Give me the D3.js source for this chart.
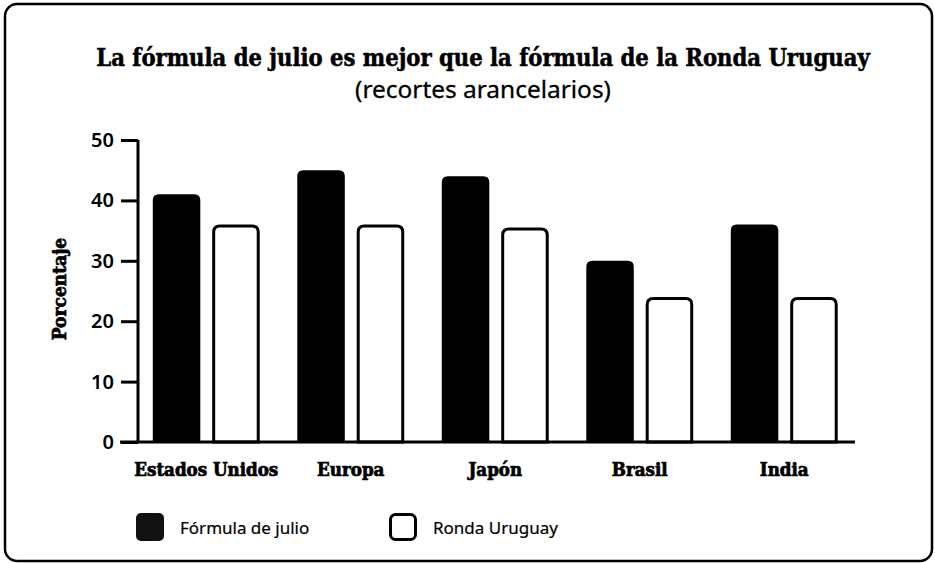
<!DOCTYPE html>
<html>
<head>
<meta charset="utf-8">
<script src="https://cdn.jsdelivr.net/npm/d3@7"></script>
<style>
  body { margin: 0; background: #fff; }
  .slab { font-family: "DejaVu Serif", "Liberation Serif", serif; font-weight: bold; font-stretch: condensed; }
  .sans { font-family: "Noto Sans", "Open Sans", sans-serif; }
</style>
</head>
<body>
<svg width="935" height="563"></svg>
<script>
// Chart data
var categories = ["Estados Unidos", "Europa", "Japón", "Brasil", "India"];
var seriesNames = ["Fórmula de julio", "Ronda Uruguay"];
var julio = [41, 45, 44, 30, 36];
var uruguay = [36, 36, 35.5, 24, 24];
var yTicks = [0, 10, 20, 30, 40, 50];

var svg = d3.select("svg"),
    width = +svg.attr("width"),
    height = +svg.attr("height");

var margin = {top: 140, left: 138, bottom: 121, right: 80};
var plotBottom = height - margin.bottom;

// font size that makes a text span about the given width
function fitSize(sel, target) {
    var fs = +sel.attr("font-size");
    var w = sel.node().getComputedTextLength();
    return w > 0 ? +(fs * target / w).toFixed(2) : fs;
}

// frame
svg.append("rect")
    .attr("x", 5).attr("y", 4)
    .attr("width", width - 8).attr("height", height - 6)
    .attr("rx", 12)
    .attr("fill", "#fff")
    .attr("stroke", "#000")
    .attr("stroke-width", 2.5);

// titles
var title = svg.append("text")
    .attr("class", "slab")
    .attr("x", 483).attr("y", 66)
    .attr("text-anchor", "middle")
    .attr("font-size", 24)
    .attr("stroke", "#000").attr("stroke-width", 0.5)
    .text("La fórmula de julio es mejor que la fórmula de la Ronda Uruguay");
title.attr("font-size", Math.min(27, fitSize(title, 774)));

var sub = svg.append("text")
    .attr("class", "sans")
    .attr("x", 483).attr("y", 98)
    .attr("text-anchor", "middle")
    .attr("font-size", 22)
    .attr("stroke", "#000").attr("stroke-width", 0.3)
    .text("(recortes arancelarios)");
sub.attr("font-size", fitSize(sub, 256));

// scales
var y = d3.scaleLinear().domain([0, 50]).range([plotBottom, margin.top]);
var x0 = d3.scaleBand().domain(categories).range([134, 856.5]).padding(0);
var x1 = d3.scaleBand().domain(seriesNames).range([0, x0.bandwidth()])
    .paddingInner(0.2).paddingOuter(0.316);

var rows = categories.map(function(c, i) {
    return {cat: c, values: [
        {key: seriesNames[0], value: julio[i]},
        {key: seriesNames[1], value: uruguay[i]}
    ]};
});

// bar with rounded top corners
function topRounded(x, yTop, w, yBot, r) {
    return "M" + x + "," + yBot +
        "V" + (yTop + r) +
        "Q" + x + "," + yTop + " " + (x + r) + "," + yTop +
        "H" + (x + w - r) +
        "Q" + (x + w) + "," + yTop + " " + (x + w) + "," + (yTop + r) +
        "V" + yBot + "Z";
}

var groups = svg.append("g").selectAll("g")
    .data(rows)
    .enter().append("g")
    .attr("transform", function(d) { return "translate(" + x0(d.cat) + ",0)"; });

groups.selectAll("path")
    .data(function(d) { return d.values; })
    .enter().append("path")
    .attr("d", function(d) {
        var bx = x1(d.key), bw = x1.bandwidth();
        if (d.key === seriesNames[0]) {
            return topRounded(bx, y(d.value), bw, plotBottom, 6);
        }
        return topRounded(bx + 1.5, y(d.value) + 1.5, bw - 3, plotBottom, 6);
    })
    .attr("fill", function(d) { return d.key === seriesNames[0] ? "#000" : "#fff"; })
    .attr("stroke", function(d) { return d.key === seriesNames[0] ? "none" : "#000"; })
    .attr("stroke-width", 3);

// y axis
var yAxis = d3.axisLeft(y).tickValues(yTicks).tickSize(17).tickPadding(7);
var gy = svg.append("g")
    .attr("transform", "translate(" + margin.left + ",0)")
    .call(yAxis);
gy.select(".domain").attr("stroke-width", 3).attr("d", "M0," + y(50) + "V" + y(0));
gy.selectAll(".tick line").attr("stroke-width", 3);
gy.selectAll(".tick text")
    .attr("class", "sans")
    .attr("font-size", 20)
    .attr("font-weight", 600)
    .attr("fill", "#000");

// x axis baseline
svg.append("line")
    .attr("x1", margin.left - 18).attr("x2", 855)
    .attr("y1", plotBottom).attr("y2", plotBottom)
    .attr("stroke", "#000").attr("stroke-width", 3);

// category labels
var catLabels = svg.append("g").selectAll("text")
    .data(categories)
    .enter().append("text")
    .attr("class", "slab")
    .attr("x", function(d) { return x0(d) + x0.bandwidth() / 2; })
    .attr("y", 476)
    .attr("text-anchor", "middle")
    .attr("font-size", 17.5)
    .attr("stroke", "#000").attr("stroke-width", 0.7)
    .text(function(d) { return d; });
catLabels.attr("font-size", Math.min(19, fitSize(d3.select(catLabels.node()), 144)));

// y label
var yLab = svg.append("text")
    .attr("class", "slab")
    .attr("transform", "translate(66,289) rotate(-90)")
    .attr("text-anchor", "middle")
    .attr("font-size", 18)
    .attr("stroke", "#000").attr("stroke-width", 0.7)
    .text("Porcentaje");
yLab.attr("font-size", Math.min(19, fitSize(yLab, 104)));

// legend
var legend = svg.append("g").selectAll("g")
    .data(seriesNames)
    .enter().append("g")
    .attr("transform", function(d, i) { return "translate(" + (136 + i * 253) + ",513)"; });

legend.append("rect")
    .attr("x", function(d, i) { return i ? 1.5 : 0; })
    .attr("y", function(d, i) { return i ? 1.5 : 0; })
    .attr("width", function(d, i) { return i ? 25 : 28; })
    .attr("height", function(d, i) { return i ? 25 : 28; })
    .attr("rx", 5)
    .attr("fill", function(d, i) { return i ? "#fff" : "#111"; })
    .attr("stroke", "#000")
    .attr("stroke-width", function(d, i) { return i ? 3 : 0; });

legend.append("text")
    .attr("class", "sans")
    .attr("x", 44).attr("y", 21)
    .attr("font-size", 17)
    .attr("stroke", "#000").attr("stroke-width", 0.2)
    .text(function(d) { return d; });
</script>
</body>
</html>
